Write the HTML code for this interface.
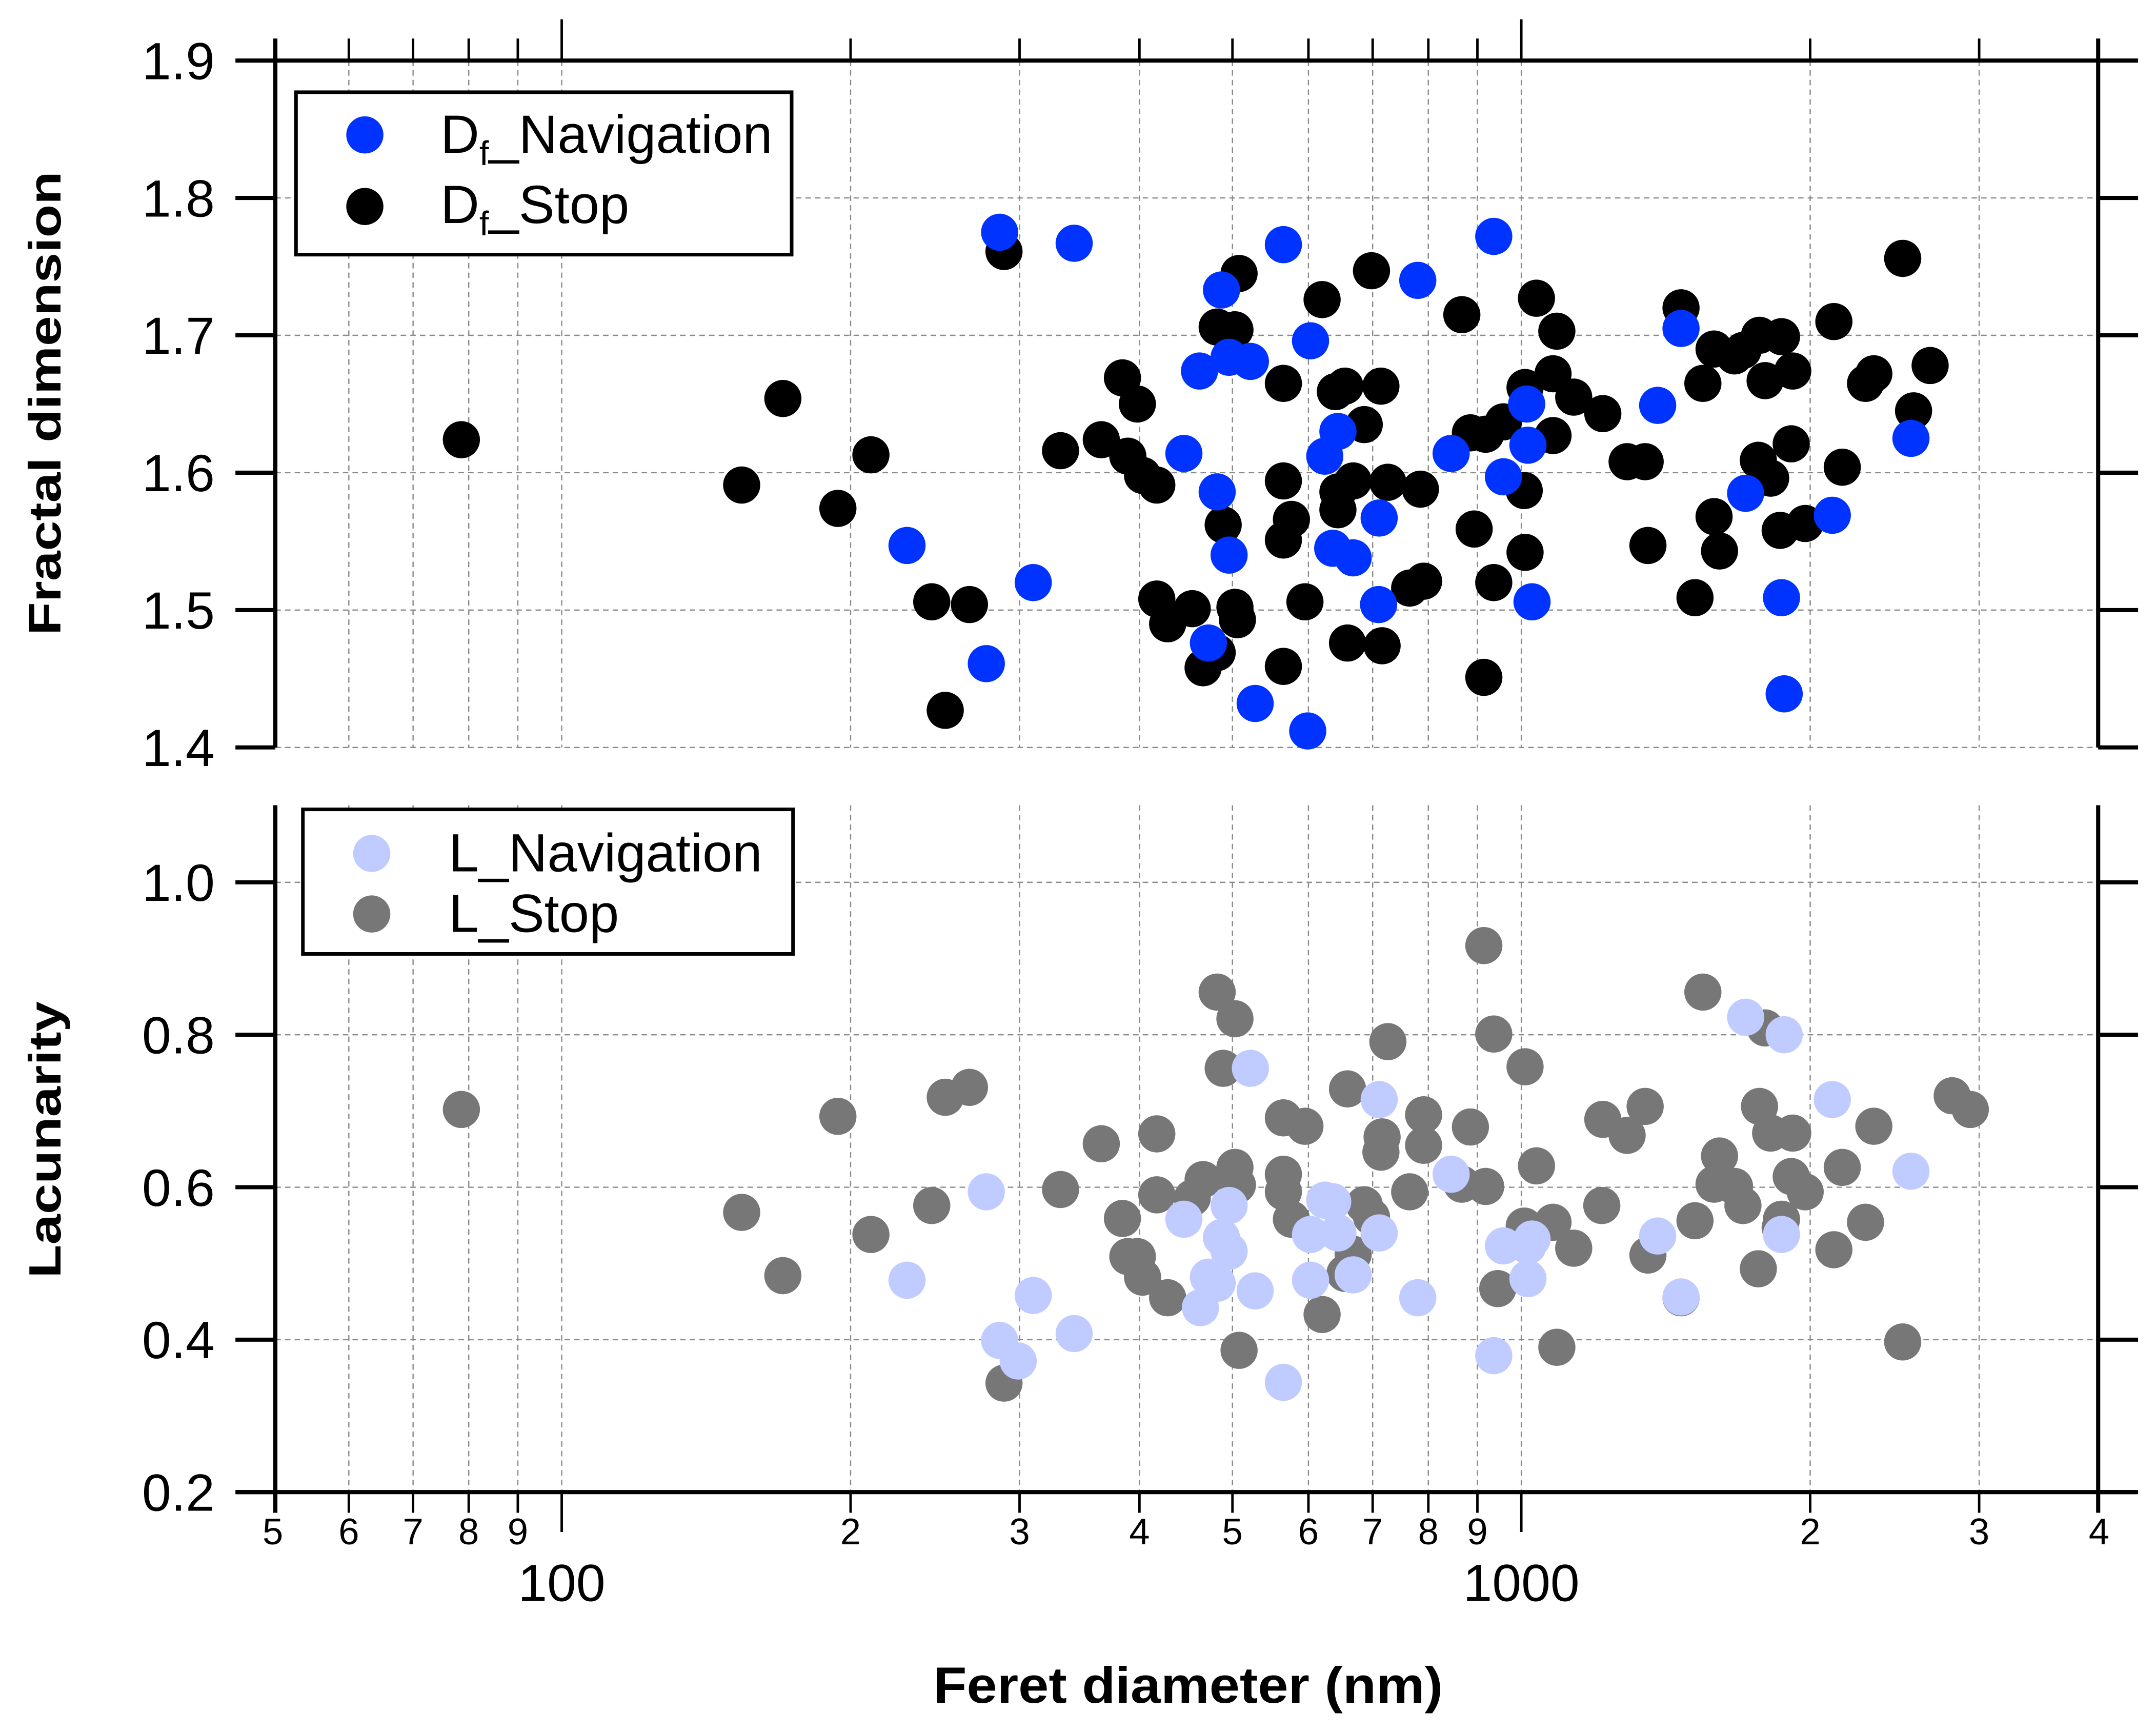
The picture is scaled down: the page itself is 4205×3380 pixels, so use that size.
<!DOCTYPE html>
<html><head><meta charset="utf-8"><style>
html,body{margin:0;padding:0;background:#fff;}
svg{display:block;}
text{font-family:"Liberation Sans",Arial,sans-serif;fill:#000;}
</style></head><body>
<svg id="chart" width="4205" height="3380" viewBox="0 0 1566 1259" preserveAspectRatio="none" xmlns="http://www.w3.org/2000/svg">
<g id="grid"></g>
<g id="axes"></g>
<g id="marks"></g>
<g id="legends">
  <g>
    <rect x="215" y="67" width="360" height="118" fill="#fff" stroke="#000" stroke-width="2.6"/>
    <circle cx="265" cy="98" r="13.5" fill="#0033ff"/>
    <text x="320" y="111" font-size="39">D<tspan font-size="25" dy="9">f</tspan><tspan dy="-9">_Navigation</tspan></text>
    <circle cx="265" cy="150" r="13.5" fill="#000"/>
    <text x="320" y="162" font-size="39">D<tspan font-size="25" dy="9">f</tspan><tspan dy="-9">_Stop</tspan></text>
  </g>
  <g>
    <rect x="220" y="588" width="356" height="105" fill="#fff" stroke="#000" stroke-width="2.6"/>
    <circle cx="270" cy="620" r="13.5" fill="#c0ccff"/>
    <text x="326" y="633" font-size="39">L_Navigation</text>
    <circle cx="270" cy="664" r="13.5" fill="#777777"/>
    <text x="326" y="677" font-size="39">L_Stop</text>
  </g>
</g>
<text transform="translate(44,293) rotate(-90)" text-anchor="middle" font-size="33" font-weight="bold" textLength="337" lengthAdjust="spacingAndGlyphs">Fractal dimension</text>
<text transform="translate(44,828) rotate(-90)" text-anchor="middle" font-size="33" font-weight="bold" textLength="201" lengthAdjust="spacingAndGlyphs">Lacunarity</text>
<text x="863" y="1237" text-anchor="middle" font-size="37" font-weight="bold" textLength="370" lengthAdjust="spacingAndGlyphs">Feret diameter (nm)</text>
</svg>
<script>
// ---- data ----
const dfNavX = [286,342,565,936,780,487,603,462,496,522,445,624,644,1013,1387,1467,845,1016,958,482,1713,2547,2109,229,310,496,636,668,711,710,1026,1867,472,277,528,599,1879];
const dfNavY = [1.775,1.767,1.766,1.772,1.74,1.733,1.696,1.674,1.684,1.681,1.614,1.612,1.63,1.65,1.649,1.705,1.614,1.62,1.597,1.586,1.585,1.625,1.569,1.547,1.52,1.54,1.545,1.538,1.567,1.504,1.506,1.509,1.476,1.461,1.432,1.412,1.439];
const dfStopX = [78.6,154,170,194,210,289,243,266,251,331,365,384,389,398,403,417,417,428,454,466,482,482,503,508,489,503,506,565,565,576,565,565,595,620,640,655,644,644,668,686,659,698,714,726,716,765,791,785,867,885,918,893,936,914,958,1009,1007,1009,1037,1079,1089,1079,1134,1216,1289,1346,1355,1467,1517,1546,1588,1588,1609,1668,1702,1771,1795,1766,1819,1867,1918,1911,1861,1976,2117,2160,2284,2330,2497,2563,2667];
const dfStopY = [1.624,1.591,1.654,1.574,1.613,1.761,1.506,1.504,1.427,1.616,1.624,1.669,1.612,1.65,1.598,1.591,1.508,1.49,1.501,1.458,1.469,1.706,1.704,1.745,1.562,1.502,1.493,1.665,1.594,1.566,1.551,1.459,1.506,1.726,1.659,1.663,1.586,1.573,1.594,1.635,1.476,1.747,1.663,1.593,1.474,1.516,1.521,1.588,1.715,1.629,1.628,1.559,1.52,1.451,1.637,1.662,1.587,1.542,1.727,1.672,1.703,1.627,1.655,1.643,1.608,1.608,1.547,1.72,1.509,1.665,1.69,1.568,1.543,1.685,1.689,1.7,1.667,1.609,1.596,1.699,1.674,1.621,1.558,1.563,1.71,1.604,1.665,1.672,1.756,1.645,1.678];
const lNavX = [277,229,286,299,310,342,445,496,487,496,472,482,463,522,528,565,603,603,624,636,644,668,711,711,780,845,936,958,1016,1026,1016,1387,1467,1713,1879,1867,2109,2547];
const lNavY = [0.594,0.478,0.399,0.372,0.458,0.408,0.558,0.576,0.534,0.516,0.482,0.474,0.442,0.756,0.464,0.344,0.538,0.478,0.583,0.581,0.540,0.485,0.715,0.540,0.455,0.617,0.379,0.523,0.523,0.532,0.480,0.536,0.456,0.823,0.800,0.538,0.715,0.621];
const lStopX = [78.6,154,170,194,210,243,251,266,289,331,365,384,389,398,403,417,417,428,454,466,482,489,503,503,506,508,565,565,576,565,595,620,655,668,686,698,659,716,714,726,765,791,791,867,885,914,918,936,945,1009,1007,1037,1079,1089,1134,1216,1289,1346,1213,1355,1467,1517,1546,1588,1609,1668,1702,1771,1795,1766,1819,1867,1918,1911,1861,1976,2117,2160,2284,2330,2497,2812,2937];
const lStopY = [0.702,0.567,0.484,0.693,0.538,0.576,0.718,0.731,0.343,0.597,0.657,0.559,0.509,0.509,0.482,0.670,0.590,0.455,0.586,0.610,0.856,0.756,0.821,0.626,0.603,0.386,0.691,0.617,0.558,0.594,0.680,0.433,0.487,0.512,0.577,0.561,0.729,0.666,0.646,0.791,0.594,0.695,0.655,0.604,0.679,0.917,0.601,0.801,0.467,0.758,0.549,0.628,0.554,0.390,0.520,0.689,0.668,0.706,0.576,0.511,0.455,0.556,0.856,0.604,0.641,0.601,0.576,0.706,0.809,0.493,0.671,0.558,0.671,0.614,0.547,0.594,0.518,0.626,0.554,0.680,0.397,0.720,0.702];
const topYTicks = ["1.4","1.5","1.6","1.7","1.8","1.9"];
const botYTicks = ["0.2","0.4","0.6","0.8","1.0"];
const xMinorTicks = [50,60,70,80,90,200,300,400,500,600,700,800,900,2000,3000,4000];
const xMajorTicks = [100,1000];

// ---- scales ----
const X0=200, X1=1524;
const xs = v => 408 + (Math.log10(v)-2)*697;
const yTop = v => 44 + (1.9 - v)*998;
const yBot = v => 1084 - (v - 0.2)*553.75;
const NS="http://www.w3.org/2000/svg";
function mk(parent, tag, attrs){const e=document.createElementNS(NS,tag);for(const k in attrs)e.setAttribute(k,attrs[k]);parent.appendChild(e);return e;}
const grid=document.getElementById('grid'), axes=document.getElementById('axes'), marks=document.getElementById('marks');
const gs={stroke:"#8a8a8a","stroke-width":0.9,"stroke-dasharray":"4 3",fill:"none"};
for (const p of [[44,543],[585,1084]]) {
  for (const t of xMinorTicks.concat(xMajorTicks)) {
    if (t===50||t===4000) continue;
    const l=mk(grid,'line',Object.assign({x1:xs(t),x2:xs(t),y1:p[0],y2:p[1]},gs));
    
    
  }
}
for (const t of topYTicks){const l=mk(grid,'line',Object.assign({x1:X0,x2:X1,y1:yTop(+t),y2:yTop(+t)},gs));
  
  }
for (const t of botYTicks){const l=mk(grid,'line',Object.assign({x1:X0,x2:X1,y1:yBot(+t),y2:yBot(+t)},gs));
  
  }
const ax={stroke:"#000","stroke-width":3,fill:"none"};
const tk={stroke:"#000","stroke-width":1.8,fill:"none"};
mk(axes,'line',Object.assign({x1:172,x2:1552,y1:44,y2:44},ax));
mk(axes,'line',Object.assign({x1:X0,x2:X0,y1:28,y2:543},ax));
mk(axes,'line',Object.assign({x1:X1,x2:X1,y1:28,y2:543},ax));
mk(axes,'line',Object.assign({x1:172,x2:1552,y1:1084,y2:1084},ax));
mk(axes,'line',Object.assign({x1:X0,x2:X0,y1:585,y2:1099},ax));
mk(axes,'line',Object.assign({x1:X1,x2:X1,y1:585,y2:1099},ax));
for (const t of xMinorTicks){ if(t===50||t===4000)continue;
  mk(axes,'line',Object.assign({x1:xs(t),x2:xs(t),y1:28,y2:44},tk));
  mk(axes,'line',Object.assign({x1:xs(t),x2:xs(t),y1:1084,y2:1099},tk));}
for (const t of xMajorTicks){
  mk(axes,'line',Object.assign({x1:xs(t),x2:xs(t),y1:14,y2:44},tk));
  mk(axes,'line',Object.assign({x1:xs(t),x2:xs(t),y1:1084,y2:1113},tk));
  const tx=mk(axes,'text',{x:xs(t),y:1163,'text-anchor':'middle','font-size':38});
  tx.textContent=String(t);
  
  }
for (const t of xMinorTicks){
  const tx=mk(axes,'text',{x:xs(t),y:1122,'text-anchor':'middle','font-size':27});
  tx.textContent=String(t).charAt(0);
  
  }
for (const t of topYTicks){const y=yTop(+t);
  mk(axes,'line',Object.assign({x1:171,x2:X0,y1:y,y2:y},ax));
  mk(axes,'line',Object.assign({x1:X1,x2:1553,y1:y,y2:y},ax));
  const tx=mk(axes,'text',{x:156,y:y+13.5,'text-anchor':'end','font-size':38});
  tx.textContent=t;
  
  }
for (const t of botYTicks){const y=yBot(+t);
  mk(axes,'line',Object.assign({x1:171,x2:X0,y1:y,y2:y},ax));
  mk(axes,'line',Object.assign({x1:X1,x2:1553,y1:y,y2:y},ax));
  const tx=mk(axes,'text',{x:156,y:y+13.5,'text-anchor':'end','font-size':38});
  tx.textContent=t;
  
  }
function series(xa,ya,ys,color,name){
  for(let i=0;i<xa.length;i++){
    const c=mk(marks,'circle',{cx:xs(xa[i]),cy:ys(ya[i]),r:13.5,fill:color});
    
    
  }
}
series(dfStopX,dfStopY,yTop,'#000000','point-df-stop');
series(dfNavX,dfNavY,yTop,'#0033ff','point-df-navigation');
series(lStopX,lStopY,yBot,'#777777','point-l-stop');
series(lNavX,lNavY,yBot,'#c0ccff','point-l-navigation');
</script>
</body></html>
